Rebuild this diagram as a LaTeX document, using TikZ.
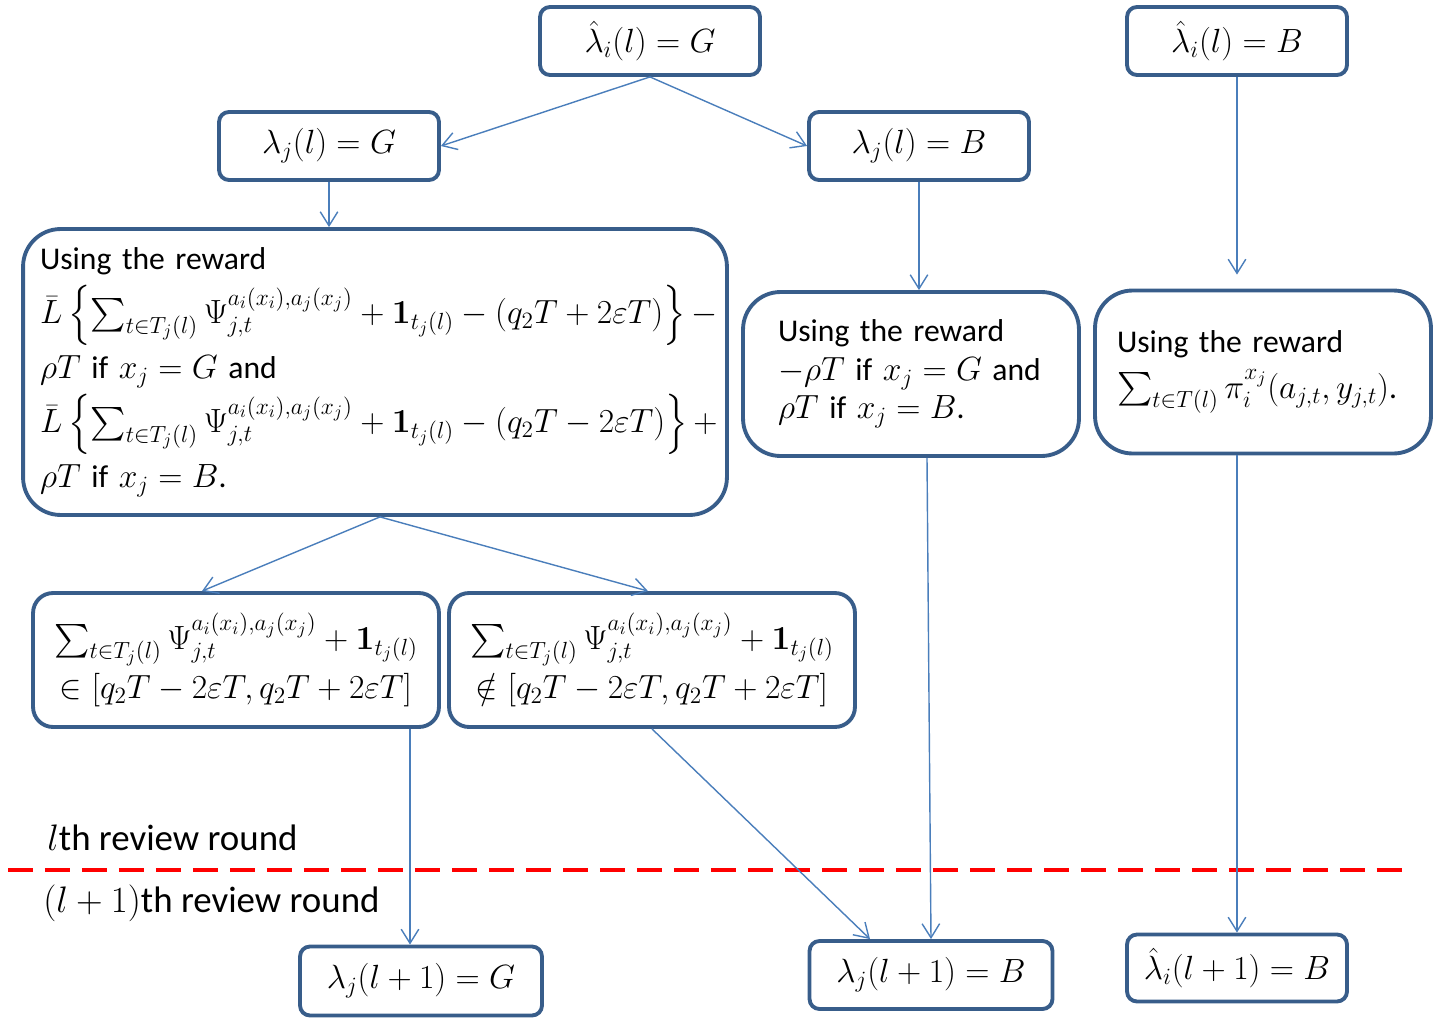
\RequirePackage{fix-cm}
\documentclass[tikz,border=0pt]{standalone}
\usepackage{amsmath,amssymb}
\usepackage[no-math]{fontspec}
\setmainfont{Carlito}
\usetikzlibrary{arrows.meta,calc}
\definecolor{boxline}{RGB}{56,93,138}
\definecolor{arrline}{RGB}{74,126,187}
\DeclareMathSizes{18}{19.1}{13.3}{10}
\binoppenalty=10000
\relpenalty=10000

\begin{document}
\begin{tikzpicture}[
x=0.02cm, y=-0.02cm,
font=\fontsize{18}{22}\selectfont,
box/.style={draw=boxline, line width=2.2pt, rounded corners=0.2cm, align=center, minimum width=4.4cm, minimum height=1.36cm, inner sep=0pt},
rewardbox/.style={draw=boxline, line width=2.2pt, rounded corners=0.75cm, align=left, inner ysep=0pt},
testbox/.style={draw=boxline, line width=2.2pt, rounded corners=0.4cm, align=center, minimum width=8.12cm, minimum height=2.68cm, inner sep=0pt, font=\fontsize{18}{28}\selectfont},
roundlabel/.style={anchor=west, inner sep=0pt, font=\fontsize{21}{25}\selectfont},
arrow/.style={-{Straight Barb[length=8pt,width=10pt]}, draw=arrline, line width=0.8pt}
]
\useasboundingbox (0,0) rectangle (1448,1021);

% review round l
\node[box] (hatG) at (650,41) {$\hat{\lambda}_i(l) = G$};
\node[box] (hatB) at (1237,41) {$\hat{\lambda}_i(l) = B$};
\node[box] (lamG) at (329,146) {$\lambda_j(l) = G$};
\node[box] (lamB) at (919,146) {$\lambda_j(l) = B$};

\node[rewardbox, minimum width=14.08cm, minimum height=5.72cm, text width=13.4cm, inner xsep=0.34cm,
  font=\fontsize{18}{31}\selectfont] (rewG) at (375,372) {Using the reward\\
$\bar{L}\left\{\sum_{t\in T_j(l)}\Psi_{j,t}^{a_i(x_i),a_j(x_j)} + \mathbf{1}_{t_j(l)} - (q_2T + 2\varepsilon T)\right\} -$\\
$\rho T$~if~$x_j = G$~and\\
$\bar{L}\left\{\sum_{t\in T_j(l)}\Psi_{j,t}^{a_i(x_i),a_j(x_j)} + \mathbf{1}_{t_j(l)} - (q_2T - 2\varepsilon T)\right\} +$\\
$\rho T$~if~$x_j = B$.};
\node[rewardbox, minimum width=6.72cm, minimum height=3.28cm, text width=5.32cm, inner xsep=0.7cm] (rewB) at (911,374) {Using the reward\\
$-\rho T$~if~$x_j = G$~and\\
$\rho T$~if~$x_j = B$.};
\node[rewardbox, minimum width=6.72cm, minimum height=3.26cm, text width=5.84cm, inner xsep=0.44cm,
  font=\fontsize{18}{26}\selectfont] (rewI) at (1263,372) {Using the reward\\
$\sum_{t\in T(l)}\pi_i^{x_j}(a_{j,t}, y_{j,t})$.};

\node[testbox] (inside) at (236,660) {$\sum_{t\in T_j(l)}\Psi_{j,t}^{a_i(x_i),a_j(x_j)} + \mathbf{1}_{t_j(l)}$\\
$\in [q_2T - 2\varepsilon T, q_2T + 2\varepsilon T]$};
\node[testbox] (outside) at (652,660) {$\sum_{t\in T_j(l)}\Psi_{j,t}^{a_i(x_i),a_j(x_j)} + \mathbf{1}_{t_j(l)}$\\
$\notin [q_2T - 2\varepsilon T, q_2T + 2\varepsilon T]$};

% round boundary
\node[roundlabel] (thisround) at (47,838) {$l$th review round};
\node[roundlabel] (nextround) at (43,903) {$(l+1)$th review round};
\draw[red, line width=2.8pt, dash pattern=on 0.5cm off 0.24cm] (8,870) -- (1410,870);

% review round l+1
\node[box, minimum width=4.84cm, minimum height=1.38cm] (nextG) at (421,981) {$\lambda_j(l+1) = G$};
\node[box, minimum width=4.86cm] (nextB) at (931,975) {$\lambda_j(l+1) = B$};
\node[box, minimum height=1.34cm] (nextI) at (1237,968) {$\hat{\lambda}_i(l+1) = B$};

\coordinate (gIn) at ($(nextG.north)+(-11,0)$);
\coordinate (bIn) at ($(nextB.north)+(-61,0)$);

\draw[arrow] (hatG.south) -- (lamG.east);
\draw[arrow] (hatG.south) -- (lamB.west);
\draw[arrow] (lamG.south) -- (lamG |- rewG.north);
\draw[arrow] (lamB.south) -- (lamB |- rewB.north);
\draw[arrow, shorten >=0.28cm] (hatB.south) -- (hatB |- rewI.north);
\draw[arrow] ($(rewG.south)+(5,0)$) -- ($(inside.north)+(-34,0)$);
\draw[arrow] ($(rewG.south)+(5,0)$) -- ($(outside.north)+(-4,0)$);
\draw[arrow] (gIn |- inside.south) -- (gIn);
\draw[arrow] (outside.south) -- (bIn);
\draw[arrow] ($(rewB.south)+(16,0)$) -- (nextB.north);
\draw[arrow] (nextI |- rewI.south) -- (nextI.north);
\end{tikzpicture}
\end{document}
